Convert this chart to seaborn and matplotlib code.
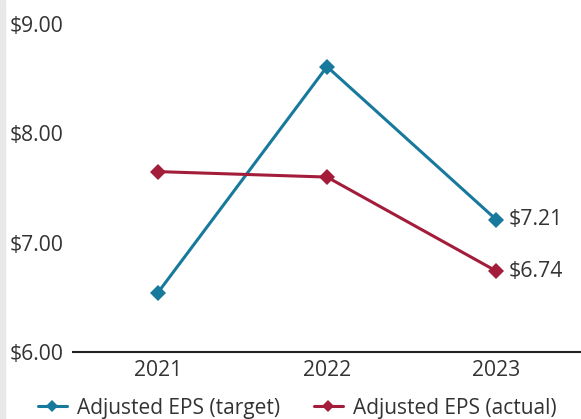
import pandas as pd
import matplotlib.pyplot as plt
import seaborn as sns
from matplotlib.patches import Rectangle

years = ["2021", "2022", "2023"]
target_eps = [6.54, 8.61, 7.21]
actual_eps = [7.65, 7.60, 6.74]
series_names = ["Adjusted EPS (target)", "Adjusted EPS (actual)"]
y_ticks = [6.0, 7.0, 8.0, 9.0]

df = pd.DataFrame({
    "Year": years * 2,
    "EPS": target_eps + actual_eps,
    "Series": [series_names[0]] * 3 + [series_names[1]] * 3,
})

sns.set_style("white")
plt.rcParams["font.family"] = ["Open Sans", "DejaVu Sans"]
text_color = "#333333"
colors = {series_names[0]: "#17799c", series_names[1]: "#a31d3a"}

fig = plt.figure(figsize=(5.81, 4.19), dpi=100)
ax = fig.add_axes([73 / 581, 67 / 419, 1 - 73 / 581, (352 - 24) / 419])

sns.lineplot(data=df, x="Year", y="EPS", hue="Series", palette=colors,
             marker="D", markersize=8, markeredgewidth=0, linewidth=2.2,
             ax=ax)

ax.set_xlim(-0.5, 2.5)
ax.set_ylim(6.0, 9.0)
ax.set_yticks(y_ticks)
ax.set_yticklabels([f"${v:.2f}" for v in y_ticks])
ax.set_xlabel("")
ax.set_ylabel("")
ax.tick_params(axis="both", length=0, labelsize=15.2, labelcolor=text_color)
ax.tick_params(axis="y", pad=7)
ax.tick_params(axis="x", pad=6)
for side in ["top", "right", "left"]:
    ax.spines[side].set_visible(False)
ax.spines["bottom"].set_color("#222222")
ax.spines["bottom"].set_linewidth(1.5)
ax.spines["bottom"].set_zorder(0)

# end-point labels
for val in [target_eps[-1], actual_eps[-1]]:
    ax.annotate(f"${val:.2f}", xy=(2, val), xytext=(9, 0),
                textcoords="offset points", va="center", ha="left",
                fontsize=15.3, color=text_color)

handles, labels = ax.get_legend_handles_labels()
ax.legend_.remove()
fig.legend(handles, labels, loc="center", bbox_to_anchor=(0.512, 11 / 419),
           ncol=2, frameon=False, fontsize=15.0, labelcolor=text_color,
           handlelength=1.4, handletextpad=0.5, columnspacing=1.6,
           markerscale=0.8)

# light strip on left edge
fig.patches.append(Rectangle((0, 0), 5 / 581, 1, transform=fig.transFigure,
                             color="#e8e8e8", zorder=-1))

fig.savefig("out.png", dpi=100)
